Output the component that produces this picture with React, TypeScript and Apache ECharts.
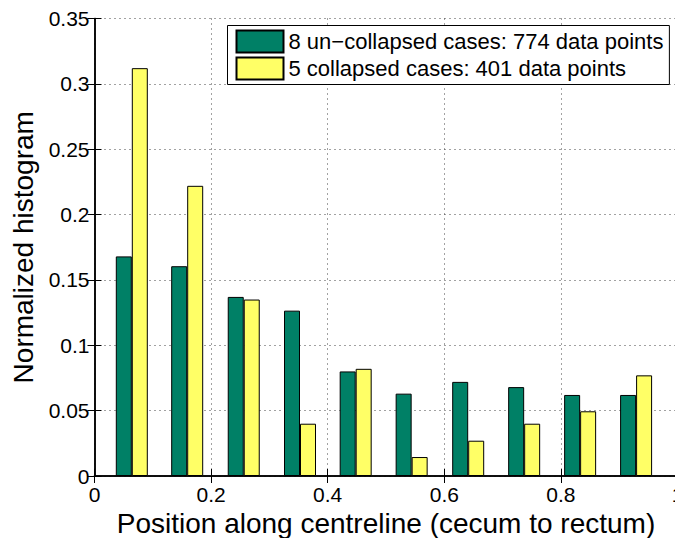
import React, { useEffect, useRef } from "react";
import * as echarts from "echarts";

const binCenters = [0.064, 0.159, 0.256, 0.3525, 0.448, 0.544, 0.641, 0.737, 0.833, 0.929];
const uncollapsed = [0.168, 0.1605, 0.137, 0.1265, 0.080, 0.063, 0.072, 0.068, 0.062, 0.062];
const collapsed = [0.312, 0.222, 0.135, 0.040, 0.082, 0.0145, 0.027, 0.040, 0.0495, 0.077];
const seriesNames = [
  "8 un\u2212collapsed cases: 774 data points",
  "5 collapsed cases: 401 data points",
];
const xTitle = "Position along centreline (cecum to rectum)";
const yTitle = "Normalized histogram";

const FONT = "'Liberation Sans', Arial, Helvetica, sans-serif";

export default function App() {
  const ref = useRef<HTMLDivElement>(null);
  useEffect(() => {
    document.body.style.margin = "0";
    document.body.style.overflow = "hidden";
    if (!ref.current) return;
    const chart = echarts.init(ref.current, null, { renderer: "svg" });
    const grid = {
      left: 94.5,
      top: 18.5,
      width: 583,
      height: 457.5,
      containLabel: false,
      outerBoundsMode: "none",
    };
    const dotted = { show: true, lineStyle: { color: "#444", type: [1, 4] as any, width: 1 } };
    chart.setOption({
      animation: false,
      backgroundColor: "#fff",
      textStyle: { fontFamily: FONT },
      grid,
      legend: {
        orient: "vertical",
        left: 227.5,
        top: 25.5,
        width: 443,
        padding: [4, 6, 4, 8],
        itemGap: 3,
        itemWidth: 47,
        itemHeight: 22,
        backgroundColor: "#fff",
        borderColor: "#000",
        borderWidth: 1,
        icon: "rect",
        textStyle: { fontFamily: FONT, fontSize: 22, color: "#000" },
        data: seriesNames,
      },
      xAxis: [
        {
          type: "value",
          min: 0,
          max: 1,
          interval: 0.2,
          name: xTitle,
          nameLocation: "middle",
          nameGap: 27,
          nameTextStyle: { fontFamily: FONT, fontSize: 28, color: "#000" },
          axisLine: { show: true, lineStyle: { color: "#000", width: 1.5 } },
          axisTick: { show: true, inside: true, length: 7, lineStyle: { color: "#000" } },
          axisLabel: {
            fontFamily: FONT,
            fontSize: 21,
            color: "#000",
            margin: 8,
            showMaxLabel: true,
            hideOverlap: false,
            formatter: (v: number) => String(Math.round(v * 10) / 10),
          },
          splitLine: dotted,
        },
        {
          type: "value",
          position: "top",
          min: 0,
          max: 1,
          interval: 0.2,
          axisLine: { show: true, lineStyle: { color: "#000", width: 1.5 } },
          axisTick: { show: true, inside: true, length: 7, lineStyle: { color: "#000" } },
          axisLabel: { show: false },
          splitLine: { show: false },
        },
      ],
      yAxis: [
        {
          type: "value",
          min: 0,
          max: 0.35,
          interval: 0.05,
          name: yTitle,
          nameLocation: "middle",
          nameGap: 52,
          nameTextStyle: { fontFamily: FONT, fontSize: 28, color: "#000" },
          axisLine: { show: true, lineStyle: { color: "#000", width: 1.5 } },
          axisTick: { show: true, inside: true, length: 7, lineStyle: { color: "#000" } },
          axisLabel: {
            fontFamily: FONT,
            fontSize: 21,
            color: "#000",
            margin: 5,
            formatter: (v: number) => String(Math.round(v * 100) / 100),
          },
          splitLine: dotted,
        },
        {
          type: "value",
          position: "right",
          min: 0,
          max: 0.35,
          interval: 0.05,
          axisLine: { show: true, lineStyle: { color: "#000", width: 1.5 } },
          axisTick: { show: true, inside: true, length: 7, lineStyle: { color: "#000" } },
          axisLabel: { show: false },
          splitLine: { show: false },
        },
      ],
      series: [
        {
          name: seriesNames[0],
          type: "bar",
          barWidth: 16,
          barGap: "0%",
          data: binCenters.map((x, i) => [x, uncollapsed[i]]),
          itemStyle: { color: "#008066", borderColor: "#000", borderWidth: 1 },
        },
        {
          name: seriesNames[1],
          type: "bar",
          barWidth: 16,
          barGap: "0%",
          data: binCenters.map((x, i) => [x, collapsed[i]]),
          itemStyle: { color: "#FFFF66", borderColor: "#000", borderWidth: 1 },
        },
      ],
    });
    return () => chart.dispose();
  }, []);
  return (
    <div
      ref={ref}
      style={{ position: "absolute", left: 0, top: 0, width: 675, height: 538, overflow: "hidden" }}
    />
  );
}
